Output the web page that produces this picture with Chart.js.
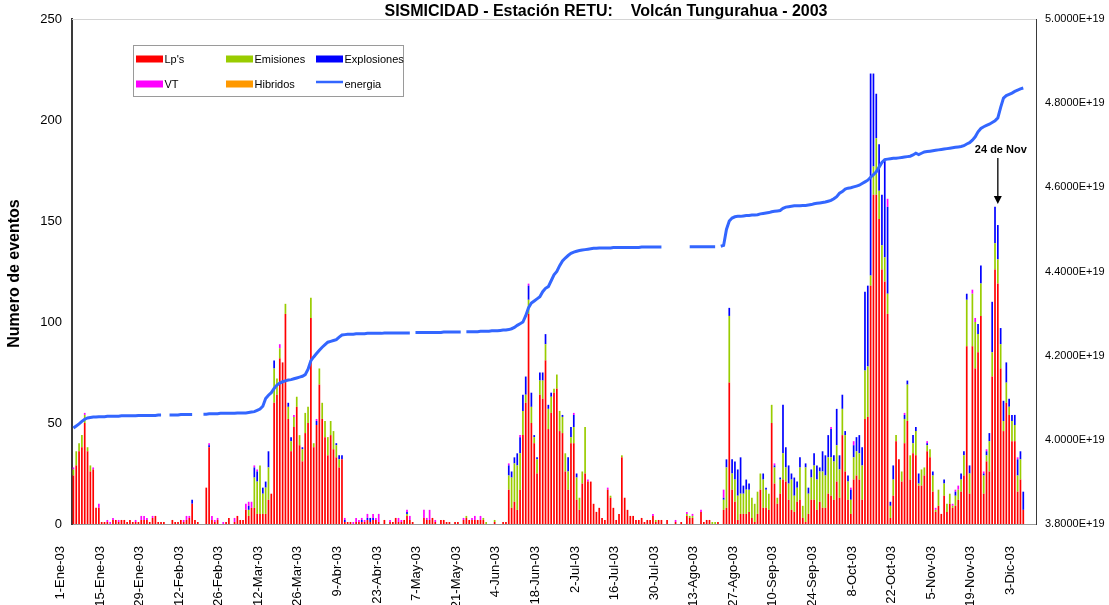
<!DOCTYPE html>
<html>
<head>
<meta charset="utf-8">
<script src="https://cdn.jsdelivr.net/npm/chart.js@4.4.1/dist/chart.umd.min.js"></script>
<style>
  html, body { margin: 0; padding: 0; background: #fff; overflow: hidden; }
  #wrap { width: 1109px; height: 605px; }
</style>
</head>
<body>
<div id="wrap"><canvas id="sismicidad" width="1109" height="605"></canvas></div>
<script>
const color = {
  Lp: "#FF0000",
  Emisiones: "#99CC00",
  Explosiones: "#0000FF",
  VT: "#FF00FF",
  Hibridos: "#FF9900",
  Energia: "#3366FF",
};

const titulo = "SISMICIDAD - Estación RETU:    Volcán Tungurahua - 2003";

// days of 2003, one category per day (1-Ene-03 ... 7-Dic-03)
const meses = ["Ene", "Feb", "Mar", "Abr", "May", "Jun", "Jul", "Ago", "Sep", "Oct", "Nov", "Dic"];
const diasMes = [31, 28, 31, 30, 31, 30, 31, 31, 30, 31, 30, 31];
const numDias = 341;
const labels = [];
for (let m = 0; m < 12 && labels.length < numDias; m++)
  for (let d = 1; d <= diasMes[m] && labels.length < numDias; d++)
    labels.push(d + "-" + meses[m] + "-03");

const ejeIzq = [0, 50, 100, 150, 200, 250];
const ejeDer = [3.8, 4.0, 4.2, 4.4, 4.6, 4.8, 5.0]; // x 1E+19

// daily counts, one row = 14 days
const lps = [
  24,29,36,38,50,36,26,27,8,8,1,1,1,0,
  2,2,1,2,2,1,2,1,1,1,2,2,2,1,
  3,4,1,1,1,0,0,2,1,1,2,1,2,3,
  10,2,1,0,0,18,38,2,1,2,0,0,1,3,
  0,1,4,2,2,7,4,8,8,5,5,5,5,12,
  15,60,64,82,80,104,52,36,48,58,39,31,45,50,
  102,38,49,69,52,43,34,44,37,33,28,32,1,1,
  1,0,1,1,1,1,2,1,2,2,1,0,2,0,
  1,1,3,1,1,2,4,2,1,0,0,0,3,2,
  2,3,1,0,2,2,1,1,0,1,1,0,2,3,
  2,2,2,2,2,2,0,0,0,1,0,0,1,1,
  17,8,11,7,17,44,60,104,50,40,25,64,62,81,
  47,55,65,67,46,45,26,17,40,40,12,7,20,25,
  21,21,10,6,8,3,2,17,13,8,2,5,33,13,
  7,4,4,2,2,3,1,2,2,4,1,2,2,0,
  2,0,0,1,0,1,0,4,3,3,0,0,6,1,
  2,2,0,0,1,0,7,8,70,17,11,2,5,5,
  5,6,3,1,5,17,8,8,7,50,20,10,15,22,
  21,12,7,6,11,12,3,1,5,12,12,7,11,8,
  8,15,14,12,21,13,44,26,12,5,22,24,22,12,
  52,53,118,163,163,151,126,120,104,3,14,41,32,21,
  40,51,22,35,34,19,19,24,36,33,16,6,9,5,
  14,6,10,8,9,12,16,24,88,15,88,77,85,103,
  15,31,26,73,126,119,77,46,60,54,41,41,16,22,
  7
];

const emisiones = [
  3,7,4,6,4,2,3,0,0,0,0,0,0,0,
  0,0,0,0,0,0,0,0,0,0,0,0,0,0,
  0,0,0,0,0,0,0,0,0,0,0,0,0,0,
  0,0,0,0,0,0,0,0,0,0,0,0,0,0,
  0,0,0,0,0,0,3,0,15,16,24,10,13,16,
  0,17,8,5,0,5,6,5,5,5,5,6,10,8,
  10,2,0,8,8,8,9,7,9,6,4,0,0,0,
  0,0,0,0,0,0,0,0,0,0,0,0,0,0,
  0,0,0,0,0,0,1,0,0,0,0,0,0,0,
  0,0,0,0,0,0,0,0,0,0,0,0,0,1,
  0,0,0,0,0,1,1,0,0,1,0,0,0,0,
  7,15,19,22,18,12,4,7,8,3,7,7,9,8,
  10,8,2,7,10,8,9,9,3,8,11,6,6,23,
  0,0,0,0,0,0,0,0,1,0,0,0,1,0,
  0,0,0,0,0,0,0,0,0,0,1,0,0,0,
  0,0,0,0,0,0,0,1,1,1,0,0,0,0,
  0,0,1,1,0,0,5,20,33,8,11,12,10,10,
  12,11,10,9,11,8,14,9,8,9,8,3,7,13,
  7,8,15,8,7,16,6,27,10,11,17,15,15,18,
  16,18,19,19,18,14,13,18,9,7,11,12,13,17,
  24,25,5,14,28,14,12,12,10,6,8,3,0,5,
  12,18,12,5,12,1,8,4,3,4,8,1,8,0,
  6,4,5,1,5,5,6,10,23,10,26,23,9,16,
  9,3,15,12,13,12,12,5,10,4,10,8,8,10,
  0
];

const explosiones = [
  0,0,0,0,0,0,0,0,0,0,0,0,0,0,
  0,0,0,0,0,0,0,0,0,0,0,0,0,0,
  0,0,0,0,0,0,0,0,0,0,0,0,0,0,
  2,0,0,0,0,0,1,0,0,0,0,0,0,0,
  0,0,0,0,0,0,2,0,5,5,0,3,3,8,
  0,4,0,0,0,0,2,2,0,0,0,1,0,0,
  0,0,2,0,0,0,0,0,0,1,2,2,1,0,
  0,0,0,0,1,0,1,2,1,0,0,0,0,0,
  0,0,0,0,0,0,1,0,0,0,0,0,0,0,
  0,0,0,0,0,0,0,0,0,0,0,0,0,0,
  0,0,0,0,0,0,0,0,0,0,0,0,0,0,
  5,3,3,6,8,8,9,7,7,1,1,4,4,5,
  2,2,0,0,0,1,0,7,5,6,2,0,0,0,
  0,0,0,0,0,0,0,0,0,0,0,0,0,0,
  0,0,0,0,0,0,0,0,0,0,0,0,0,0,
  0,0,0,0,0,0,0,0,0,0,0,0,0,0,
  0,0,0,0,0,0,1,4,4,7,9,13,18,4,
  5,3,0,0,0,0,3,1,0,0,1,0,1,24,
  10,9,3,9,3,5,0,2,3,4,6,7,2,10,
  10,11,14,3,18,7,7,2,3,5,6,7,9,9,
  39,40,100,46,22,23,25,48,43,2,7,0,0,0,
  2,2,0,4,2,5,0,0,1,0,2,0,0,0,
  2,0,0,0,2,0,3,2,3,4,0,0,5,9,
  1,2,4,25,18,17,8,10,10,4,3,5,8,4,
  9
];

const vts = [
  1,0,0,0,1,0,0,1,0,2,0,0,1,1,
  1,0,1,0,0,0,0,0,1,0,2,2,1,0,
  1,0,0,0,0,0,0,0,0,0,0,1,2,1,
  0,0,0,0,0,0,1,2,1,1,0,1,0,0,
  0,2,0,0,0,3,2,3,1,1,0,0,0,0,
  0,0,0,2,0,0,0,0,1,0,0,0,0,0,
  0,0,1,0,0,0,0,0,0,0,0,0,1,0,
  0,1,2,1,1,1,2,0,2,1,4,0,0,0,
  1,0,0,2,1,0,1,2,0,0,0,0,4,1,
  5,0,1,0,0,0,0,0,0,0,0,0,1,0,
  0,1,2,0,2,0,0,0,0,0,0,0,0,0,
  1,0,0,0,1,0,0,1,0,0,0,0,0,0,
  0,0,0,0,0,0,0,0,0,1,0,0,0,0,
  1,0,0,0,0,0,0,1,0,0,0,0,0,0,
  0,0,0,0,0,0,0,0,0,1,0,0,0,0,
  0,0,0,1,0,0,0,1,0,1,0,0,1,0,
  0,0,0,0,0,0,4,0,0,0,0,0,0,0,
  0,0,0,0,0,0,0,0,0,0,1,0,0,0,
  0,0,0,0,0,0,0,0,0,0,0,0,0,0,
  0,0,1,0,0,0,0,0,0,1,2,0,0,0,
  0,0,0,0,0,0,0,0,4,0,0,0,0,0,
  1,0,0,0,0,0,0,0,1,0,0,1,0,0,
  0,0,0,1,1,2,0,0,0,0,2,2,0,0,
  1,1,0,0,0,0,0,0,0,0,0,0,1,0,
  0
];

// cumulative energy, in units of 1E+19 (null = no data)
const energia = [
  4.028,4.033,4.038,4.044,4.049,4.052,4.053,4.054,4.054,4.055,4.055,4.055,4.056,4.056,
  4.056,4.056,4.056,4.057,4.057,4.057,4.057,4.057,4.057,4.058,4.058,4.058,4.058,4.058,
  4.058,4.058,4.059,4.059,null,null,4.059,4.059,4.059,4.059,4.060,4.060,4.060,4.060,
  4.060,null,null,null,4.061,4.061,4.062,4.062,4.062,4.062,4.063,4.063,4.063,4.063,
  4.063,4.063,4.064,4.064,4.064,4.064,4.065,4.066,4.067,4.070,4.073,4.080,4.098,4.106,
  4.112,4.122,4.130,4.135,4.138,4.140,4.142,4.143,4.145,4.147,4.149,4.151,4.155,4.168,
  4.188,4.197,4.205,4.213,4.220,4.226,4.232,4.234,4.236,4.238,4.244,4.249,4.250,4.251,
  4.251,4.251,4.252,4.252,4.252,4.252,4.253,4.253,4.253,4.253,4.253,4.253,4.254,4.254,
  4.254,4.254,4.254,4.254,4.254,4.254,4.254,4.254,null,4.255,4.255,4.255,4.255,4.255,
  4.255,4.255,4.255,4.255,4.255,4.256,4.256,4.256,4.256,4.256,4.256,4.256,null,4.257,
  4.257,4.257,4.257,4.257,4.258,4.258,4.258,4.258,4.259,4.259,4.259,4.260,4.261,4.261,
  4.262,4.264,4.267,4.272,4.276,4.280,4.295,4.314,4.325,4.330,4.335,4.340,4.352,4.360,
  4.364,4.378,4.392,4.400,4.414,4.425,4.432,4.438,4.443,4.446,4.448,4.450,4.451,4.452,
  4.453,4.454,4.455,4.455,4.456,4.456,4.456,4.456,4.456,4.457,4.457,4.457,4.457,4.457,
  4.457,4.457,4.457,4.457,4.457,4.458,4.458,4.458,4.458,4.458,4.458,4.458,4.458,null,
  null,null,null,null,null,null,null,null,4.459,4.459,4.459,4.459,4.459,4.459,
  4.459,4.459,4.459,4.459,null,4.460,4.462,4.500,4.520,4.527,4.530,4.531,4.531,4.532,
  4.533,4.533,4.534,4.534,4.535,4.537,4.538,4.539,4.540,4.542,4.543,4.544,4.545,4.550,
  4.553,4.554,4.555,4.556,4.556,4.556,4.557,4.557,4.558,4.559,4.561,4.562,4.563,4.564,
  4.565,4.567,4.569,4.573,4.578,4.586,4.590,4.596,4.598,4.599,4.601,4.603,4.605,4.609,
  4.613,4.617,4.624,4.630,4.637,4.648,4.659,4.666,4.667,4.668,4.669,4.669,4.670,4.671,
  4.672,4.673,4.674,4.677,4.681,4.678,4.681,4.684,4.685,4.686,4.687,4.688,4.689,4.690,
  4.691,4.692,4.693,4.694,4.695,4.696,4.697,4.699,4.703,4.706,4.712,4.720,4.732,4.740,
  4.744,4.747,4.750,4.754,4.758,4.765,4.790,4.812,4.818,4.821,4.824,4.828,4.831,4.834,
  4.836
];

const leyenda = [
  ["Lp's", color.Lp, "box"],
  ["Emisiones", color.Emisiones, "box"],
  ["Explosiones", color.Explosiones, "box"],
  ["VT", color.VT, "box"],
  ["Hibridos", color.Hibridos, "box"],
  ["energia", color.Energia, "line"],
];

const FONT = '"Liberation Sans", Arial, sans-serif';
Chart.defaults.font.family = FONT;
Chart.defaults.color = "#000";

function barSet(label, data, c) {
  return {
    type: "bar",
    label: label,
    data: data,
    backgroundColor: c,
    borderWidth: 0,
    barPercentage: 0.6,
    categoryPercentage: 1.0,
    yAxisID: "y",
    order: 1,
  };
}

// title, y title, legend box and the "24 de Nov" arrow
const decor = {
  id: "decor",
  afterDraw(chart) {
    const { ctx, chartArea: a, scales } = chart;
    ctx.save();

    // top border of plot
    ctx.strokeStyle = "#d4d4d4";
    ctx.lineWidth = 1;
    ctx.beginPath();
    ctx.moveTo(a.left, a.top + 0.5);
    ctx.lineTo(a.right, a.top + 0.5);
    ctx.stroke();

    ctx.fillStyle = "#000";
    ctx.font = "bold 16px " + FONT;
    ctx.textAlign = "center";
    ctx.textBaseline = "middle";
    ctx.fillText(titulo, 606, 12);

    ctx.save();
    ctx.translate(15, (a.top + a.bottom) / 2 + 2);
    ctx.rotate(-Math.PI / 2);
    ctx.fillText("Numero de eventos", 0, 0);
    ctx.restore();

    // legend
    ctx.fillStyle = "#fff";
    ctx.fillRect(133.5, 45.5, 270, 51);
    ctx.strokeStyle = "#9a9a9a";
    ctx.strokeRect(133.5, 45.5, 270, 51);
    ctx.font = "11px " + FONT;
    ctx.textAlign = "left";
    leyenda.forEach((it, i) => {
      const col = i % 3, row = Math.floor(i / 3);
      const sx = 136 + col * 90, ty = 59 + row * 25;
      if (it[2] === "box") {
        ctx.fillStyle = it[1];
        ctx.fillRect(sx, ty - 3.5, 27, 7);
      } else {
        ctx.strokeStyle = it[1];
        ctx.lineWidth = 2.5;
        ctx.beginPath();
        ctx.moveTo(sx, ty - 2);
        ctx.lineTo(sx + 27, ty - 2);
        ctx.stroke();
      }
      ctx.fillStyle = "#000";
      ctx.fillText(it[0], sx + 28.5, ty + 0.5);
    });

    // annotation arrow at 24 de Nov
    const xn = scales.x.getPixelForValue(labels.indexOf("24-Nov-03"));
    ctx.font = "bold 11px " + FONT;
    ctx.textAlign = "center";
    ctx.fillText("24 de Nov", xn + 3, 150);
    ctx.strokeStyle = "#000";
    ctx.lineWidth = 1.3;
    ctx.beginPath();
    ctx.moveTo(xn, 158);
    ctx.lineTo(xn, 197);
    ctx.stroke();
    ctx.beginPath();
    ctx.moveTo(xn - 4, 196);
    ctx.lineTo(xn + 4, 196);
    ctx.lineTo(xn, 204);
    ctx.closePath();
    ctx.fill();

    ctx.restore();
  },
};

const config = {
  type: "bar",
  data: {
    labels: labels,
    datasets: [
      {
        type: "line",
        label: "energia",
        data: energia,
        borderColor: color.Energia,
        backgroundColor: color.Energia,
        borderWidth: 3,
        pointRadius: 0,
        tension: 0,
        spanGaps: false,
        yAxisID: "y2",
        order: 0,
      },
      barSet("Lp's", lps, color.Lp),
      barSet("Emisiones", emisiones, color.Emisiones),
      barSet("Explosiones", explosiones, color.Explosiones),
      barSet("VT", vts, color.VT),
    ],
  },
  options: {
    responsive: false,
    animation: false,
    layout: { padding: { top: 19 } },
    plugins: {
      legend: { display: false },
      title: { display: false },
      tooltip: { enabled: false },
    },
    scales: {
      x: {
        stacked: true,
        grid: { display: false, drawTicks: false },
        border: { display: true, color: "#9a9a9a", width: 1 },
        ticks: {
          autoSkip: false,
          minRotation: 90,
          maxRotation: 90,
          padding: 22,
          labelOffset: -13,
          font: { size: 13 },
        },
        afterBuildTicks: (s) => {
          s.ticks = s.ticks.filter((t) => t.value % 14 === 0);
        },
        afterFit: (s) => { s.height = 81; },
      },
      y: {
        stacked: true,
        position: "left",
        min: 0,
        max: 250,
        grid: { display: false, drawTicks: false },
        border: { display: true, color: "#3a3a3a", width: 2 },
        ticks: { padding: 10, font: { size: 13 } },
        afterBuildTicks: (s) => {
          s.ticks = ejeIzq.map((v) => ({ value: v }));
        },
        afterFit: (s) => { s.width = 72; },
      },
      y2: {
        position: "right",
        min: 3.8,
        max: 5.0,
        grid: { display: false, drawTicks: false },
        border: { display: true, color: "#3a3a3a", width: 1 },
        ticks: {
          padding: 9,
          font: { size: 11 },
          callback: (v) => v.toFixed(4) + "E+19",
        },
        afterBuildTicks: (s) => {
          s.ticks = ejeDer.map((v) => ({ value: v }));
        },
        afterFit: (s) => { s.width = 73; },
      },
    },
  },
  plugins: [decor],
};

const chart = new Chart(document.getElementById("sismicidad"), config);
</script>
</body>
</html>
